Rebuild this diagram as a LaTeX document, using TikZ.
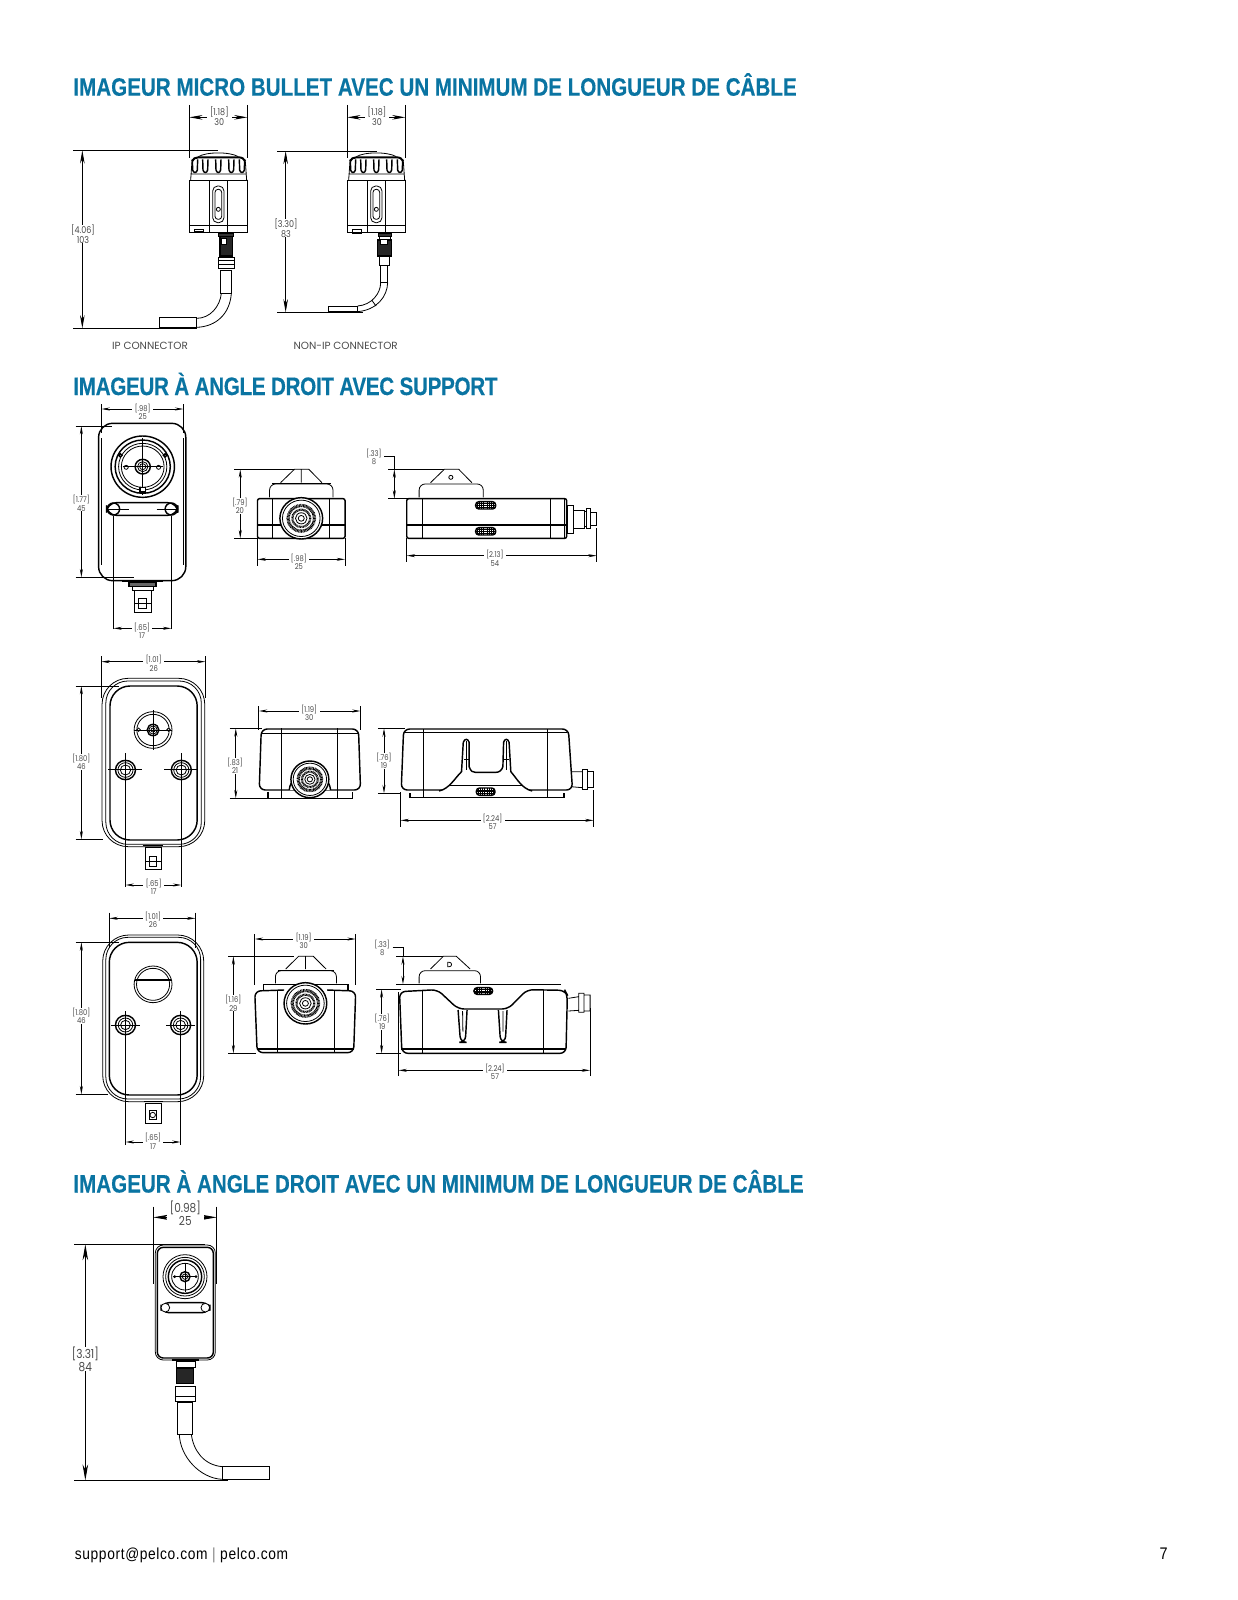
\documentclass[tikz,border=0pt]{standalone}
\usepackage{fontspec}
\usetikzlibrary{arrows.meta}
\newfontfamily\headfont[FakeStretch=0.818,FakeBold=0.35]{Liberation Sans Bold}
\newfontfamily\dimfont[FakeStretch=0.85]{Poppins}
\newfontfamily\capfont{Poppins}
\newfontfamily\footfont[FakeStretch=0.86,LetterSpace=4]{Liberation Sans}
\definecolor{pelcoblue}{HTML}{0A74A2}
\definecolor{dimgrey}{HTML}{4A4A4A}
\tikzset{
  part/.style={line width=.4pt},
  heavy/.style={line width=.72pt},
  fine/.style={line width=.25pt},
  extline/.style={line width=.4pt},
  dimline/.style={line width=.4pt,<->,>={Stealth[length=4.2pt,width=1.5pt]}},
  dimlabel/.style={font=\dimfont\fontsize{4}{4.2}\selectfont,text=dimgrey,align=center,fill=white,inner xsep=1.2pt,inner ysep=0pt},
  titletext/.style={font=\headfont\fontsize{12.6}{14}\selectfont,text=pelcoblue,anchor=base west,inner sep=0pt},
}
% name, x1, end1, x2, end2, y, top, label position, label
\newcommand{\hdim}[9]{
  \coordinate (#1a) at (#2,#6);
  \coordinate (#1b) at (#4,#6);
  \draw[extline] (#2,#7) -- (#2,#3) (#4,#7) -- (#4,#5);
  \draw[dimline] (#1a) -- (#1b);
  \node[dimlabel] (#1t) at (#8) {#9};
}
% name, y1, end1, y2, end2, x, left, label position, label
\newcommand{\vdim}[9]{
  \coordinate (#1a) at (#6,#2);
  \coordinate (#1b) at (#6,#4);
  \draw[extline] (#7,#2) -- (#3,#2) (#7,#4) -- (#5,#4);
  \draw[dimline] (#1a) -- (#1b);
  \node[dimlabel] (#1t) at (#8) {#9};
}
% concentric rings
\newcommand{\rings}[3]{
  \foreach \r in {#3} \draw[#1] (#2) circle (\r);
}
% plug seen from the end: x, y, radius
\newcommand{\plugface}[3]{
  \draw[heavy,fill=white] (#1,#2) circle (#3);
  \draw[part] (#1,#2) circle ({.88*#3});
  \draw[line width=1.6pt,dash pattern=on .4pt off .3pt] (#1,#2) circle ({.62*#3});
  \draw[line width=1.1pt,dash pattern=on .4pt off .3pt] (#1,#2) circle ({.42*#3});
  \draw[part] (#1,#2) circle ({.27*#3}) (#1,#2) circle ({.14*#3});
}
% small ribbed slot: x, y, half width, half height
\newcommand{\ribslot}[4]{
  \draw[heavy,rounded corners=1.6pt] ({#1-#3},{#2-#4}) rectangle ({#1+#3},{#2+#4});
  \foreach \dy in {-.5,0,.5} \draw[fine] ({#1-#3},{#2+\dy*#4}) -- ({#1+#3},{#2+\dy*#4});
  \foreach \dx in {-.8,-.6,-.4,-.2,.2,.4,.6,.8} \draw[fine] ({#1+\dx*#3},{#2-#4}) -- ({#1+\dx*#3},{#2+#4});
}
% head of the bullet imager, drawn at the left view
\newcommand{\bullethead}{
  \draw[part] (415,260) .. controls (440,245) and (510,245) .. (535,260);
  \draw[line width=1pt] (396,274) .. controls (400,266) and (405,262) .. (415,262) -- (535,262) .. controls (546,262) and (552,266) .. (556,274);
  \foreach \x in {405,436,475,514,546}
    \draw[heavy] (\x-8,268) -- (\x-7,300) .. controls (\x-5,310) and (\x+5,310) .. (\x+7,300) -- (\x+8,268);
  \draw[part] (396,274) -- (392,330) (556,274) -- (560,330) (394,312) -- (558,312);
  \draw[heavy] (388,331) -- (562,331) (388,331) -- (388,488) -- (562,488) -- (562,331);
  \draw[part] (448,332) -- (448,488) (502,332) -- (502,488) (388,465) -- (562,465);
  \draw[part,rounded corners=2.5pt] (458,348) rectangle (492,458);
  \draw[part,rounded corners=1.5pt] (465,358) rectangle (485,448);
  \draw[part,fill=white] (475,418) circle (6);
}
\begin{document}
\begin{tikzpicture}[x=.5pt,y=-.5pt]
\useasboundingbox (0,0) rectangle (1237,1600);
\node[titletext] (titlebullet) at (73,95.7) {IMAGEUR MICRO BULLET AVEC UN MINIMUM DE LONGUEUR DE CÂBLE};
\node[titletext,font=\headfont\addfontfeature{LetterSpace=-1.2}\fontsize{12.6}{14}\selectfont] (titlesupport) at (73,395) {IMAGEUR À ANGLE DROIT AVEC SUPPORT};
\node[titletext] (titleangle) at (73,1192.5) {IMAGEUR À ANGLE DROIT AVEC UN MINIMUM DE LONGUEUR DE CÂBLE};
\node[font=\footfont\fontsize{8}{10}\selectfont,anchor=base west,inner sep=0pt] (footmail) at (74.5,1559) {support@pelco.com \textcolor{gray}{|} pelco.com};
\node[font=\footfont\fontsize{8.4}{10}\selectfont,anchor=base east,inner sep=0pt] (footpage) at (1168,1559) {7};

% bullet imager
\begin{scope}[shift={(60,70)},scale=1/3,
  dimline/.style={line width=.4pt,<->,>={Stealth[length=6.6pt,width=2.3pt]}},
  dimlabel/.style={font=\dimfont\fontsize{4.7}{4.9}\selectfont,text=dimgrey,align=center,fill=white,inner xsep=1.5pt,inner ysep=0pt}]
\bullethead
\begin{scope}[xshift=474*.5pt]
\bullethead
\end{scope}
\draw[part] (403,478) rectangle (430,485);
\draw[heavy] (878,478) rectangle (904,489);
% IP connector
\draw[heavy,fill=black!80] (476,490) rectangle (520,500);
\draw[heavy,fill=black!85] (480,500) rectangle (518,558);
\draw[part,fill=white] (485,506) rectangle (500,522);
\draw[part] (474,562) rectangle (522,595) (474,572) -- (522,572) (474,584) -- (522,584);
\draw[heavy] (478,596) -- (518,596);
\draw[part] (482,600) rectangle (514,670);
\draw[part] (514,670) .. controls (510,730) and (470,770) .. (410,772) (484,670) .. controls (480,710) and (450,745) .. (410,745);
\draw[part] (298,743) rectangle (410,773);
% non-IP connector
\draw[heavy,fill=black!80] (955,490) rectangle (995,500);
\draw[part] (958,500) rectangle (992,510);
\draw[heavy,fill=black!85] (952,510) rectangle (994,558);
\draw[part,fill=white] (962,508) rectangle (982,522);
\draw[part] (958,558) rectangle (988,585) (962,585) rectangle (983,638);
\draw[part] (983,638) .. controls (982,680) and (950,720) .. (893,725) (962,638) .. controls (962,670) and (935,705) .. (893,708) (935,690) -- (948,708);
\draw[part] (805,708) rectangle (893,725);
% dimensions
\hdim{widthip}{388}{265}{562}{265}{142}{105}{478,139}{[1.18]\\30}
\hdim{widthnon}{862}{265}{1036}{265}{142}{105}{951,139}{[1.18]\\30}
\vdim{heightip}{241}{475}{775}{410}{67}{40}{69,492}{[4.06]\\103}
\vdim{heightnon}{243}{950}{727}{910}{677}{652}{678,474}{[3.30]\\83}
\node[dimlabel,fill=none,font=\capfont\fontsize{5.2}{6}\selectfont] (captionip) at (270,828) {IP CONNECTOR};
\node[dimlabel,fill=none,font=\capfont\fontsize{5.2}{6}\selectfont] (captionnon) at (857,828) {NON-IP CONNECTOR};
\end{scope}

% support, first row
\begin{scope}[shift={(60,390)},xscale=1.034/3,yscale=1/3]
\draw[heavy,rounded corners=7pt] (112,100) rectangle (365,572);
\draw[part] (119,145) -- (119,525) (358,145) -- (358,525);
\rings{heavy}{240,230}{92,80}
\rings{part}{240,230}{70,62}
\rings{heavy}{240,230}{22}
\rings{part}{240,230}{15,9}
\draw[fine] (240,145) -- (240,315) (182,230) -- (298,230);
\draw[part] (192,232) circle (6) (286,232) circle (6);
\draw[heavy,fill=white] (232,292) rectangle (248,306);
\draw[heavy] (175,196) circle (5) (305,196) circle (5);
\draw[heavy,rounded corners=5pt] (135,338) rectangle (342,376);
\draw[heavy] (155,357) circle (18) (323,357) circle (18);
\draw[fine] (135,357) -- (200,357) (280,357) -- (342,357);
\draw[heavy] (180,574) -- (298,574);
\draw[heavy,fill=black!60] (200,578) rectangle (278,590);
\draw[part] (210,590) rectangle (270,600);
\draw[part] (215,600) rectangle (265,668) (228,625) rectangle (250,655) (215,640) -- (265,640);
\hdim{frontwidth}{120}{130}{358}{130}{57}{42}{240,66}{[.98]\\25}
\vdim{frontheight}{108}{150}{562}{215}{62}{45}{62,340}{[1.77]\\45}
\hdim{plugwidth}{155}{378}{323}{378}{715}{718}{238,722}{[.65]\\17}
% end view
\draw[part] (640,278) -- (680,238) -- (722,238) -- (760,278) (700,238) -- (700,278);
\draw[part,rounded corners=3pt] (608,322) -- (608,282) -- (792,282) -- (792,322);
\draw[heavy] (615,280) -- (785,280);
\draw[heavy,rounded corners=1pt] (573,326) rectangle (827,445);
\draw[heavy] (573,405) -- (827,405);
\draw[part] (617,326) -- (617,445) (782,326) -- (782,445);
\plugface{700}{385}{62}
\vdim{endheight}{238}{680}{445}{573}{523}{505}{522,348}{[.79]\\20}
\hdim{endwidth}{573}{445}{827}{445}{508}{527}{693,515}{[.98]\\25}
% side view
\draw[part] (1075,278) -- (1115,238) -- (1157,238) -- (1195,278);
\draw[part] (1134,262) circle (6);
\draw[part,rounded corners=3pt] (1042,322) -- (1042,282) -- (1228,282) -- (1228,322);
\draw[heavy,rounded corners=1pt] (1006,326) rectangle (1470,445);
\draw[heavy] (1006,405) -- (1470,405);
\draw[part] (1050,326) -- (1050,445) (1422,326) -- (1422,445) (1464,326) -- (1464,445);
\ribslot{1235}{346}{29}{11}
\ribslot{1235}{424}{29}{11}
\draw[part] (1472,345) rectangle (1490,430) (1490,360) rectangle (1520,415) (1538,367) rectangle (1557,405);
\draw[part] (1527,355) rectangle (1538,415) (1520,365) rectangle (1527,410);
\coordinate (sidetop) at (970,238);
\coordinate (sidelow) at (970,326);
\draw[extline] (952,238) -- (1115,238) (952,326) -- (1040,326);
\draw[dimline] (sidetop) -- (sidelow);
\node[dimlabel] (sidegap) at (911,200) {[.33]\\8};
\draw[extline] (sidegap.east) -| (sidetop);
\hdim{sidelength}{1006}{445}{1557}{415}{497}{515}{1262,505}{[2.13]\\54}
\end{scope}

% support, second row
\begin{scope}[shift={(60,635)},xscale=1.034/3,yscale=1/3]
\draw[part,rounded corners=13pt] (122,130) rectangle (420,635);
\draw[part,rounded corners=11pt] (133,138) rectangle (410,628);
\draw[heavy,rounded corners=10pt] (145,153) rectangle (398,615);
\rings{part}{270,285}{55,47}
\rings{heavy}{270,285}{17}
\rings{part}{270,285}{12,6}
\draw[fine] (270,225) -- (270,345) (215,285) -- (325,285);
\draw[part] (228,284) circle (5) (315,284) circle (5);
\foreach \x in {190,352} {
  \rings{heavy}{\x,405}{29}
  \rings{part}{\x,405}{22,15}
  \draw[fine] (\x-50,403) -- (\x+48,403);
}
\draw[heavy] (240,632) -- (298,632);
\draw[part] (248,636) rectangle (293,703) (258,665) rectangle (280,695) (248,680) -- (293,680);
\hdim{frontwidth}{120}{190}{422}{190}{80}{63}{272,85}{[1.01]\\26}
\vdim{frontheight}{153}{170}{613}{125}{62}{45}{62,380}{[1.80]\\46}
\hdim{plugwidth}{190}{355}{352}{355}{750}{755}{272,756}{[.65]\\17}
% end view
\draw[heavy,rounded corners=3pt] (578,465) -- (584,282) -- (866,282) -- (872,465) -- cycle;
\draw[heavy] (585,295) -- (865,295);
\draw[part] (643,280) -- (643,490) (805,280) -- (805,490);
\draw[heavy] (603,470) -- (603,490) -- (848,490) -- (848,470);
\draw[heavy,fill=white] (665,465) .. controls (670,400) and (780,400) .. (785,465);
\plugface{725}{433}{55}
\hdim{endwidth}{577}{285}{872}{285}{228}{213}{723,233}{[1.19]\\30}
\vdim{endheight}{280}{585}{490}{600}{510}{492}{508,392}{[.83]\\21}
% side view
\draw[heavy,rounded corners=3pt] (990,465) -- (997,282) -- (1475,282) -- (1487,465) -- cycle;
\draw[heavy] (1000,293) -- (1470,293);
\draw[part] (1055,282) -- (1055,488) (1415,282) -- (1415,488);
\draw[heavy,fill=white] (1100,468) .. controls (1130,461) and (1145,430) .. (1165,410) -- (1170,322) .. controls (1174,310) and (1184,310) .. (1187,322) -- (1187,395) .. controls (1192,410) and (1198,412) .. (1205,412) -- (1265,412) .. controls (1275,412) and (1282,405) .. (1285,395) -- (1287,322) .. controls (1290,310) and (1300,310) .. (1303,322) -- (1308,410) .. controls (1325,430) and (1340,461) .. (1370,468);
\draw[part] (1180,318) -- (1180,405) (1295,318) -- (1295,405) (1172,372) -- (1186,372) (1288,372) -- (1303,372);
\draw[heavy] (1015,475) -- (1015,488) -- (1462,488) -- (1462,475) (1130,452) -- (1340,452);
\ribslot{1235}{470}{27}{11}
\draw[part] (1482,410) -- (1515,410) (1482,455) -- (1515,458);
\draw[part] (1515,403) rectangle (1530,462) (1530,408) rectangle (1548,458);
\vdim{sideheight}{280}{1000}{475}{990}{940}{922}{940,378}{[.76]\\19}
\hdim{sidelength}{988}{470}{1548}{465}{556}{575}{1255,560}{[2.24]\\57}
\end{scope}

% support, third row
\begin{scope}[shift={(60,885)},xscale=1.034/3,yscale=1/3]
\draw[part,rounded corners=13pt] (124,150) rectangle (417,650);
\draw[part,rounded corners=11pt] (133,157) rectangle (408,642);
\draw[heavy,rounded corners=10pt] (143,172) rectangle (398,630);
\rings{part}{270,298}{55,48}
\draw[heavy] (218,285) -- (322,285);
\foreach \x in {190,350} {
  \rings{heavy}{\x,420}{29}
  \rings{part}{\x,420}{21,14}
  \draw[fine] (\x-42,420) -- (\x+42,420);
}
\draw[heavy] (245,650) -- (298,650);
\draw[part] (248,654) rectangle (293,715) (258,675) rectangle (280,703);
\draw[part] (269,690) circle (8);
\hdim{frontwidth}{143}{190}{393}{190}{100}{83}{270,105}{[1.01]\\26}
\vdim{frontheight}{172}{170}{628}{140}{62}{45}{62,392}{[1.80]\\46}
\hdim{plugwidth}{190}{378}{350}{378}{771}{780}{270,769}{[.65]\\17}
% end view
\draw[part] (655,252) -- (692,214) -- (735,214) -- (772,252) (712,214) -- (712,252);
\draw[part,rounded corners=3pt] (625,295) -- (625,257) -- (802,257) -- (802,295);
\draw[heavy] (632,256) -- (795,256);
\draw[heavy] (590,315) -- (590,298) -- (835,298) -- (835,315);
\draw[heavy,rounded corners=3pt] (650,315) -- (565,318) -- (572,503) -- (852,503) -- (858,318) -- (775,315);
\draw[heavy] (575,492) -- (852,492);
\draw[part] (632,315) -- (632,503) (795,315) -- (795,503);
\plugface{712}{355}{62}
\hdim{endwidth}{565}{300}{858}{300}{162}{147}{707,167}{[1.19]\\30}
\vdim{endheight}{214}{680}{505}{570}{503}{488}{503,355}{[1.16]\\29}
% side view
\draw[part] (1075,252) -- (1112,214) -- (1150,214) -- (1190,252);
\draw[part] (1125,232) -- (1125,245) -- (1130,245) .. controls (1138,245) and (1138,232) .. (1130,232) -- cycle;
\draw[part,rounded corners=3pt] (1042,295) -- (1042,257) -- (1220,257) -- (1220,295);
\draw[heavy] (1008,298) -- (1455,298);
\ribslot{1228}{318}{27}{10}
\draw[heavy,rounded corners=3pt] (985,320) -- (1095,314) -- (1155,372) -- (1300,372) -- (1355,314) -- (1465,316) -- (1472,330) -- (1468,505) -- (992,505) -- cycle;
\draw[heavy] (990,492) -- (1468,492);
\draw[part] (1050,316) -- (1050,505) (1403,316) -- (1403,505);
\draw[heavy,rounded corners=3pt] (1155,375) -- (1162,472) -- (1176,472) -- (1181,375);
\draw[heavy,rounded corners=3pt] (1272,375) -- (1278,472) -- (1292,472) -- (1297,375);
\draw[part] (1168,378) -- (1169,440) (1285,378) -- (1285,440);
\draw[part] (1475,340) -- (1505,335) (1475,378) -- (1505,376) (1505,325) rectangle (1520,382) (1520,330) rectangle (1538,378);
\coordinate (sidetop) at (995,214);
\coordinate (sidelow) at (995,298);
\draw[extline] (975,214) -- (1110,214) (975,298) -- (1040,298);
\draw[dimline] (sidetop) -- (sidelow);
\node[dimlabel] (sidegap) at (935,188) {[.33]\\8};
\draw[extline] (sidegap.east) -| (sidetop);
\vdim{sideheight}{313}{990}{505}{990}{933}{918}{935,410}{[.76]\\19}
\hdim{sidelength}{982}{320}{1538}{370}{556}{573}{1262,560}{[2.24]\\57}
\end{scope}

% right angle imager
\begin{scope}[shift={(60,1170)},scale=1/3,
  dimline/.style={line width=.45pt,<->,>={Stealth[length=8pt,width=2.8pt]}},
  dimlabel/.style={font=\dimfont\fontsize{6.2}{6.5}\selectfont,text=dimgrey,align=center,fill=white,inner xsep=1.5pt,inner ysep=0pt}]
\draw[part,rounded corners=4pt] (286,225) rectangle (466,570);
\draw[heavy,rounded corners=3pt] (292,232) rectangle (460,564);
\rings{part}{375,320}{66,58}
\rings{heavy}{375,320}{50}
\rings{part}{375,320}{40}
\rings{heavy}{375,320}{15}
\rings{part}{375,320}{8}
\draw[fine] (375,280) -- (375,365) (340,320) -- (412,320);
\draw[part] (344,320) circle (3) (408,320) circle (3);
\draw[heavy,rounded corners=4pt] (303,398) rectangle (450,428);
\draw[part,fill=white] (316,413) circle (13) (436,413) circle (13);
\draw[heavy] (335,570) -- (418,570);
\draw[part] (350,574) rectangle (405,592);
\draw[heavy,fill=black!85] (350,595) rectangle (400,640);
\draw[part] (347,650) rectangle (405,695) (347,680) -- (405,680);
\draw[part] (352,697) rectangle (398,793);
\draw[part] (358,793) .. controls (360,860) and (420,925) .. (487,928) (394,793) .. controls (400,840) and (430,885) .. (487,890);
\draw[part] (487,889) rectangle (629,928);
\hdim{anglewidth}{280}{342}{470}{342}{142}{110}{376,130}{[0.98]\\25}
\vdim{angleheight}{223}{435}{931}{505}{76}{42}{76,567}{[3.31]\\84}
\end{scope}
\end{tikzpicture}
\end{document}
